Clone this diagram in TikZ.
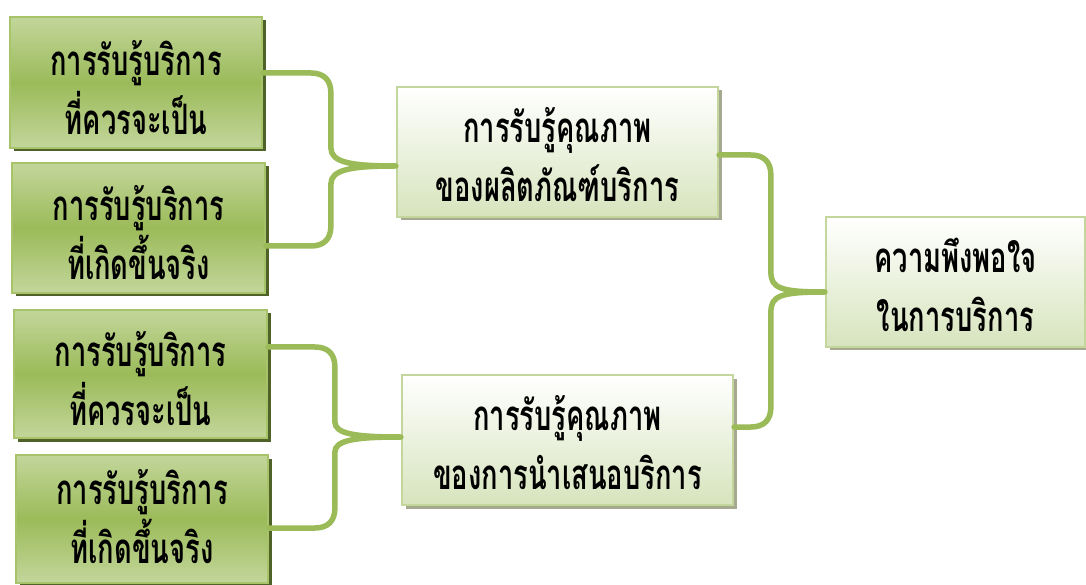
\documentclass[tikz,border=0pt]{standalone}
\usepackage{fontspec}
\newfontfamily\thai[Script=Thai, FakeStretch=0.65]{Loma}
\usetikzlibrary{shadows,calc}
\definecolor{conncol}{HTML}{9BBB59}
\definecolor{gTop}{HTML}{C3D69B}
\definecolor{gMid}{HTML}{9BBB59}
\definecolor{gLine}{HTML}{A7C46B}
\definecolor{gShadow}{HTML}{4F6228}
\definecolor{pBot}{HTML}{D7E4BD}
\definecolor{pLine}{HTML}{C3D69B}
\definecolor{pShadow}{HTML}{A6A990}
\tikzset{
  boxtext/.style={align=center, text=black, font=\thai\bfseries\fontsize{42}{59}\selectfont, inner sep=0pt},
  greenbox/.style={draw=gLine, line width=1.8pt, top color=gTop, bottom color=gTop, middle color=gMid,
    general shadow={fill=gShadow, shadow xshift=3.5pt, shadow yshift=-3.5pt}},
  palebox/.style={draw=pLine, line width=2.2pt, top color=white, bottom color=pBot,
    general shadow={fill=pShadow, shadow xshift=3.5pt, shadow yshift=-3.5pt}},
  gtext/.style={label={[boxtext, yshift=-5pt]center:#1}},
  gtextlow/.style={label={[boxtext, yshift=2pt]center:#1}},
  ptext/.style={label={[boxtext, yshift=-2.5pt]center:#1}},
  conn/.style={draw=conncol, line width=5.5pt, line cap=round, line join=round}
}
% #1 upper start, #2 lower end, #3 tip, #4 junction x offset from tip (negative), #5 half height of tip curve
\newcommand\drawbrace[5]{%
  \draw[conn] (#1) -- ($(#1 -| #3)+(#4-20,0)$) .. controls +(13,0) and +(0,13) .. ($(#1 -| #3)+(#4,-20)$)
    -- ($(#3)+(#4,#5)$) .. controls +(0,-0.8*#5) and +(-45,0) .. (#3)
    .. controls +(-45,0) and +(0,0.8*#5) .. ($(#3)+(#4,-#5)$)
    -- ($(#2 -| #3)+(#4,20)$) .. controls +(0,-13) and +(13,0) .. ($(#2 -| #3)+(#4-20,0)$) -- (#2);}
\begin{document}
\begin{tikzpicture}[x=1pt,y=1pt]
\useasboundingbox (0,0) rectangle (1086,584);
\fill[white] (0,0) rectangle (1086,584);

\node[greenbox, minimum width=252pt, minimum height=131pt, gtext={การรับรู้บริการ\\ที่ควรจะเป็น}] (g1) at (136,501.5) {};
\node[greenbox, minimum width=253pt, minimum height=130pt, gtext={การรับรู้บริการ\\ที่เกิดขึ้นจริง}] (g2) at (138.5,356) {};
\node[greenbox, minimum width=253pt, minimum height=128pt, gtext={การรับรู้บริการ\\ที่ควรจะเป็น}] (g3) at (140.5,210) {};
\node[greenbox, minimum width=252pt, minimum height=128pt, gtextlow={การรับรู้บริการ\\ที่เกิดขึ้นจริง}] (g4) at (142,65) {};

\node[palebox, minimum width=321pt, minimum height=130pt, ptext={การรับรู้คุณภาพ\\ของผลิตภัณฑ์บริการ}] (p5) at (557.5,432) {};
\node[palebox, minimum width=331pt, minimum height=130pt, ptext={การรับรู้คุณภาพ\\ของการนำเสนอบริการ}] (p6) at (567.5,144) {};
\node[palebox, minimum width=259pt, minimum height=130pt, ptext={ความพึงพอใจ\\ในการบริการ}] (s7) at (955.5,302) {};

% anchor points of the connectors
\coordinate (a1) at ([yshift=9.5pt]g1.east);
\coordinate (b1) at ([yshift=-18pt]g2.east);
\coordinate (t1) at ([yshift=-14pt]p5.west);
\coordinate (a2) at ([yshift=27pt]g3.east);
\coordinate (b2) at ([yshift=-9pt]g4.east);
\coordinate (t2) at ([yshift=3pt]p6.west);
\coordinate (a3) at ([yshift=-3pt]p5.east);
\coordinate (b3) at ([yshift=13pt]p6.east);
\coordinate (t3) at ([yshift=-10pt]s7.west);

\drawbrace{a1}{b1}{t1}{-65}{18}
\drawbrace{a2}{b2}{t2}{-66}{15}
\drawbrace{a3}{b3}{t3}{-54}{20}
\end{tikzpicture}
\end{document}
